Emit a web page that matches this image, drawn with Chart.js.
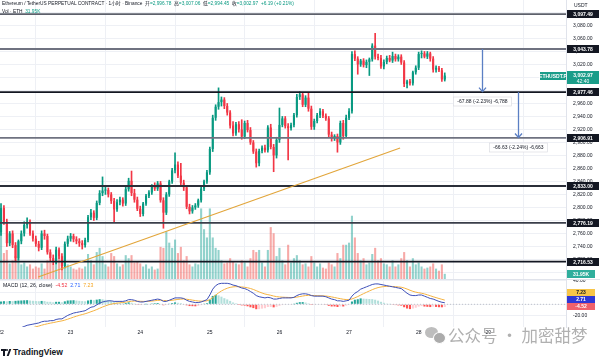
<!DOCTYPE html>
<html><head><meta charset="utf-8">
<script src="https://cdn.jsdelivr.net/npm/chart.js@4.4.1/dist/chart.umd.min.js"></script>
<style>
html,body{margin:0;padding:0;background:#fff;}
#wrap{position:relative;width:600px;height:361px;overflow:hidden;font-family:"Liberation Sans",Arial,"Noto Sans CJK SC",sans-serif;}
#c1,#c2{position:absolute;left:0;}
#c1{top:0;}
#c2{top:279px;}
.t{position:absolute;white-space:nowrap;line-height:1;color:#131722;}
.g{color:#089981;}
#sep{position:absolute;left:0;top:279px;width:600px;height:1px;background:#e0e3eb;}
</style></head><body>
<div id="wrap">
<canvas id="c1" width="600" height="279"></canvas>
<canvas id="c2" width="600" height="62"></canvas>
<div id="sep"></div>
<div class="t" style="left:2px;top:2px;font-size:4.8px">Ethereum / TetherUS PERPETUAL CONTRACT · 1小时 · Binance &nbsp;开<span class="g">=2,996.78</span> &nbsp;高<span class="g">=3,007.06</span> &nbsp;低<span class="g">=2,994.45</span> &nbsp;收<span class="g">=3,002.97</span> &nbsp;<span class="g">+6.19 (+0.21%)</span></div>
<div class="t" style="left:2px;top:10px;font-size:4.8px">Vol · ETH &nbsp;<span class="g">31.95K</span></div>
<div class="t" style="left:574px;top:3px;font-size:5px;color:#131722">USDT</div>
<div class="t" style="left:3px;top:283px;font-size:5.2px">MACD (12, 26, close) &nbsp;<span style="color:#f23645">-4.52</span> &nbsp;<span style="color:#2962ff">2.71</span> &nbsp;<span style="color:#f5a623">7.23</span></div>
<div style="position:absolute;left:425px;top:327px;width:13px;height:11px;border-radius:50%;background:#bdbdbd;"></div>
<div style="position:absolute;left:433px;top:332px;width:11px;height:10px;border-radius:50%;background:#ababab;border:1px solid #fff;"></div>
<div class="t" style="left:448px;top:327px;font-size:16.5px;color:#b0b0b0;font-family:'Noto Sans CJK SC',sans-serif;">公众号 · 加密甜梦</div>
<div style="position:absolute;left:1px;top:349px;width:5px;height:2px;background:#131722;"></div>
<div style="position:absolute;left:3px;top:349px;width:2px;height:7px;background:#131722;"></div>
<div style="position:absolute;left:6px;top:349px;width:2px;height:2px;border-radius:50%;background:#131722;"></div>
<div style="position:absolute;left:8px;top:349px;width:2px;height:7px;background:#131722;transform:skewX(-20deg);"></div>
<div class="t" style="left:13px;top:348px;font-size:8.5px;font-weight:bold;color:#131722">TradingView</div>
</div>
<script>
// ---------- data (1h candles, 22nd 00:00 onward) ----------
const opens = [2762,2799,2778,2745,2760,2742,2722,2748,2760,2773,2778,2760,2752,2744,2738,2760,2756,2731,2722,2716,2735,2725,2710,2744,
2752,2756,2751,2748,2745,2742,2750,2785,2792,2784,2807,2822,2826,2827,2820,2810,2797,2808,2812,2806,2828,2841,2822,2812,
2798,2790,2806,2818,2823,2832,2829,2837,2811,2792,2820,2840,2857,2866,2849,2838,2831,2801,2794,2800,2803,2811,2829,2840,
2854,2890,2938,2955,2962,2966,2956,2946,2926,2914,2928,2920,2909,2930,2919,2900,2886,2868,2887,2892,2888,2923,2893,2880,
2904,2927,2937,2925,2922,2927,2942,2970,2974,2958,2969,2952,2924,2933,2942,2948,2941,2937,2912,2906,2910,2900,2930,2910,
2938,2948,3036,3029,3020,3026,3019,3024,3028,3049,3032,3030,3017,3024,3030,3026,3033,3028,3032,3023,2990,2994,2991,3008,
3015,3036,3037,3032,3037,3029,3012,3015,3011,2996.78];
const highs = [2806,2803,2782,2763,2764,2746,2750,2764,2778,2784,2781,2764,2756,2748,2764,2765,2759,2735,2727,2739,2738,2729,2747,2756,
2760,2759,2755,2752,2749,2753,2788,2797,2795,2810,2826,2847,2832,2830,2823,2814,2812,2816,2815,2831,2845,2856,2828,2816,
2802,2808,2820,2826,2835,2838,2840,2840,2815,2823,2842,2860,2884,2870,2868,2842,2834,2805,2803,2806,2813,2832,2842,2857,
2893,2942,2958,2984,2970,2969,2960,2949,2932,2931,2932,2935,2933,2934,2923,2903,2890,2890,2895,2896,2926,2928,2897,2908,
2953,2940,2940,2929,2930,2945,2974,2978,2977,2972,2976,2956,2936,2945,2952,2951,2944,2940,2916,2912,2913,2933,2934,2942,
2952,3040,3041,3032,3028,3029,3027,3030,3052,3068,3036,3034,3027,3033,3034,3039,3036,3035,3035,3026,2996,2997,3010,3018,
3039,3041,3040,3040,3039,3032,3018,3017,3014,3007.06];
const lows = [2757,2774,2740,2741,2738,2718,2719,2744,2756,2768,2757,2748,2740,2733,2735,2751,2728,2718,2712,2713,2721,2704,2707,2740,
2748,2747,2744,2740,2736,2739,2747,2781,2780,2781,2804,2818,2820,2816,2806,2778,2794,2804,2802,2803,2825,2818,2808,2795,
2786,2787,2803,2815,2820,2826,2826,2808,2768,2789,2817,2837,2853,2846,2835,2826,2798,2790,2791,2797,2800,2808,2826,2837,
2851,2886,2934,2951,2956,2952,2942,2922,2910,2911,2916,2905,2906,2916,2897,2883,2862,2864,2884,2885,2885,2890,2855,2876,
2900,2924,2922,2873,2919,2924,2939,2966,2955,2955,2948,2920,2920,2930,2938,2938,2934,2908,2902,2903,2885,2897,2905,2907,
2935,2945,3026,3005,3017,3016,3015,3003,3025,3028,3027,3014,3013,3021,3024,3023,3025,3025,3020,2986,2984,2988,2988,3005,
3012,3030,3030,3029,3025,3008,3008,3009,2994,2994.45];
const closes = [2799,2778,2745,2760,2742,2722,2748,2760,2773,2778,2760,2752,2744,2738,2760,2756,2731,2722,2716,2735,2725,2710,2744,2752,
2756,2751,2748,2745,2742,2750,2785,2792,2784,2807,2822,2826,2827,2820,2810,2797,2808,2812,2806,2828,2841,2822,2812,2798,
2790,2806,2818,2823,2832,2829,2837,2811,2792,2820,2840,2857,2866,2849,2838,2831,2801,2794,2800,2803,2811,2829,2840,2854,
2890,2938,2955,2962,2966,2956,2946,2926,2914,2928,2920,2909,2930,2919,2900,2886,2868,2887,2892,2888,2923,2893,2880,2904,
2927,2937,2925,2922,2927,2942,2970,2974,2958,2969,2952,2924,2933,2942,2948,2941,2937,2912,2906,2910,2900,2930,2910,2938,
2948,3036,3029,3020,3026,3019,3024,3028,3049,3032,3030,3017,3024,3030,3026,3033,3028,3032,3023,2990,2994,2991,3008,3015,
3036,3037,3032,3037,3029,3012,3015,3011,2997,3002.97];
const volumesK = [384,160,179,96,115,141,128,90,102,77,90,64,77,70,96,64,115,102,90,128,160,115,141,90,
77,64,58,70,64,77,154,115,90,166,192,141,90,77,160,141,96,77,90,147,128,147,102,109,
96,77,90,64,77,58,64,198,192,294,224,192,243,160,198,115,141,90,77,96,90,435,307,256,
435,256,192,179,115,96,102,128,109,96,90,115,102,77,128,179,166,179,102,77,179,320,282,141,
192,115,90,211,102,128,147,115,90,96,77,141,102,77,96,70,64,102,90,77,160,128,211,211,
224,390,256,160,115,128,90,102,154,192,115,128,96,90,77,115,77,90,128,166,115,77,128,90,
102,77,64,70,77,96,64,51,90,31.95];
const macdLine = [-52,-50,-49,-47,-46,-44,-42,-40,-38,-36,-35,-34,-33,-32,-30,-29,-29,-28,-28,-26,-25,-25,-22,-19,
-17,-15,-14,-13,-12,-11,-8,-5,-4,-1,2,4,5,6,6,5,5,5,5,6,8,8,7,5,
4,4,5,6,7,8,9,8,5,5,7,9,11,11,11,10,7,5,4,3,3,4,6,8,
16,26,32,35,36,36,36,35,33,32,30,28,27,25,22,19,15,13,12,11,12,11,9,9,
10,11,11,11,11,12,15,17,18,18,17,15,14,14,14,14,13,11,9,8,6,6,5,6,
7,14,19,22,26,28,30,32,34,35,35,34,33,32,31,30,29,28,27,23,19,16,15,15,
16,16,14,12,10,9,7,5,3.5,2.71];
const signalLine = [-56.8,-55.4,-54.1,-52.7,-51.4,-49.9,-48.3,-46.6,-44.9,-43.1,-41.5,-40.0,-38.6,-37.3,-35.8,-34.5,-33.4,-32.3,-31.4,-30.3,-29.3,-28.4,-27.1,-25.5,
-23.8,-22.0,-20.4,-18.9,-17.5,-16.2,-14.6,-12.7,-11.0,-9.0,-6.8,-4.6,-2.7,-1.0,0.4,1.3,2.0,2.6,3.1,3.7,4.6,5.3,5.6,5.5,
5.2,5.0,5.0,5.2,5.6,6.1,6.7,7.0,6.6,6.3,6.4,6.9,7.7,8.4,8.9,9.1,8.7,8.0,7.2,6.4,5.7,5.4,5.5,6.0,
8.0,11.6,15.7,19.6,22.9,25.5,27.6,29.1,29.9,30.3,30.2,29.8,29.2,28.4,27.1,25.5,23.4,21.3,19.4,17.7,16.6,15.5,14.2,13.2,
12.6,12.3,12.0,11.8,11.6,11.7,12.4,13.3,14.2,15.0,15.4,15.3,15.0,14.8,14.7,14.5,14.2,13.6,12.7,11.7,10.6,9.7,8.7,8.2,
8.0,9.2,11.1,13.3,15.8,18.3,20.6,22.9,25.1,27.1,28.7,29.7,30.4,30.7,30.8,30.6,30.3,29.8,29.3,28.0,26.2,24.2,22.3,20.9,
19.9,19.0,17.8,16.3,14.7,13.0,11.5,10.0,8.6,7.23];
const histogram = [4.8,5.4,5.1,5.7,5.4,5.9,6.3,6.6,6.9,7.1,6.5,6.0,5.6,5.3,5.8,5.5,4.4,4.3,3.4,4.3,4.3,3.4,5.1,6.5,
6.8,7.0,6.4,5.9,5.5,5.2,6.6,7.7,7.0,8.0,8.8,8.6,7.7,7.0,5.6,3.7,3.0,2.4,1.9,2.3,3.4,2.7,1.4,-0.5,
-1.2,-1.0,0.1,0.8,1.4,1.9,2.3,1.0,-1.6,-1.3,0.6,2.1,3.3,2.6,2.1,0.9,-1.7,-3.0,-3.2,-3.4,-2.7,-1.4,0.5,2.0,
8.0,14.4,16.3,15.4,13.1,10.5,8.4,5.9,3.1,1.7,-0.2,-1.8,-2.2,-3.4,-5.1,-6.5,-8.4,-8.3,-7.4,-6.7,-4.6,-4.5,-5.2,-4.2,
-2.6,-1.3,-1.0,-0.8,-0.6,0.3,2.6,3.7,3.8,3.0,1.6,-0.3,-1.0,-0.8,-0.7,-0.5,-1.2,-2.6,-3.7,-3.7,-4.6,-3.7,-3.7,-2.2,
-1.0,4.8,7.9,8.7,10.2,9.7,9.4,9.1,8.9,7.9,6.3,4.3,2.6,1.3,0.2,-0.6,-1.3,-1.8,-2.3,-5.0,-7.2,-8.2,-7.3,-5.9,
-3.9,-3.0,-3.8,-4.3,-4.7,-4.0,-4.5,-5.0,-5.1,-4.52];
const dayLabels = ['22','23','24','25','26','27','28','29'];
const dayStarts = [0,24,48,72,96,120,144,168];
const priceTicks = [2700,2720,2740,2760,2780,2800,2820,2840,2860,2880,2900,2920,2940,2960,2980,3000,3020,3040,3060,3080,3100];
const macdTicks = [40,20,0,-20];
const levels = [3097.49,3043.78,2977.46,2906.91,2833.00,2776.19,2716.53];
const trendLine = [[12.8,2693],[137.6,2891.5]];
const arrows = [
  {at:165.9, from:3043.78, to:2977.46, text:'-67.88 (-2.23%) -6,788'},
  {at:178.3, from:2977.46, to:2906.91, text:'-66.63 (-2.24%) -6,663'}
];
const lastPrice = 3002.97, lastVolK = 31.95;
const macdLast = {hist:-4.52, macd:2.71, signal:7.23};

// ---------- view / style ----------
const X_MIN = -0.35, X_MAX = 194.8;
const P_MIN = 2689.9, P_MAX = 3119.2;
const M_MIN = -38.9, M_MAX = 41.7;
const VOL_MAX = 1720;
const AXIS_W = 34;
const UP = '#089981', DOWN = '#f23645';
const levelColors = ['#5d606b','#6f7280','#131722','#6f7280','#2a2e39','#3a3e4a','#131722'];
const FONT = '"Liberation Sans", Arial, sans-serif';
Chart.defaults.font.family = FONT;
Chart.defaults.font.size = 5;
Chart.defaults.color = '#131722';

const fmt = v => v.toLocaleString('en-US',{minimumFractionDigits:2,maximumFractionDigits:2});
const idx = closes.map((_,i)=>i);
const isUp = idx.map(i => closes[i] >= opens[i]);

function noPad(s){ s.paddingTop=0; s.paddingBottom=0; s.paddingLeft=0; s.paddingRight=0; }

const xGrid = {color:'#eef0f5', lineWidth:1, drawTicks:false};

function box(ctx, x, yc, w, h, bg, txt, col, bold){
  ctx.fillStyle = bg; ctx.fillRect(x, Math.round(yc - h/2), w, h);
  ctx.fillStyle = col; ctx.font = (bold?'bold ':'') + '5px ' + FONT;
  ctx.textAlign = 'center'; ctx.textBaseline = 'middle';
  ctx.fillText(txt, x + w/2, Math.round(yc - h/2) + h/2 + 0.3);
}

const overlay1 = {
  id:'overlay1',
  afterDraw(chart){
    const {ctx, chartArea:ca, scales:{x, y, yVol}} = chart;
    ctx.save();
    arrows.forEach(a => {
      const px = Math.round(x.getPixelForValue(a.at)) + 0.5;
      const y1 = y.getPixelForValue(a.from), y2 = y.getPixelForValue(a.to);
      ctx.strokeStyle = '#5b7fc4'; ctx.lineWidth = 1.3;
      ctx.beginPath(); ctx.moveTo(px, y1); ctx.lineTo(px, y2 - 0.5); ctx.stroke();
      ctx.beginPath(); ctx.moveTo(px - 3.5, y2 - 4.5); ctx.lineTo(px, y2 - 0.5); ctx.lineTo(px + 3.5, y2 - 4.5); ctx.stroke();
      ctx.font = '5px ' + FONT;
      const w = ctx.measureText(a.text).width + 8;
      const top = Math.round(y2 + 5);
      ctx.fillStyle = '#ffffff'; ctx.fillRect(px - w/2, top, w, 9);
      ctx.strokeStyle = '#d6d8de'; ctx.lineWidth = 0.6; ctx.strokeRect(px - w/2, top, w, 9);
      ctx.fillStyle = '#131722'; ctx.textAlign = 'center'; ctx.textBaseline = 'middle';
      ctx.fillText(a.text, px, top + 4.8);
    });
    const ax = ca.right + 1, aw = 600 - ca.right - 2;
    levels.forEach(l => box(ctx, ax, y.getPixelForValue(l), aw, 8, '#131722', fmt(l), '#ffffff', true));
    const py = y.getPixelForValue(lastPrice);
    ctx.fillStyle = '#1a9d89'; ctx.fillRect(ax, Math.round(py - 4.5), aw, 13);
    ctx.fillStyle = '#fff'; ctx.font = 'bold 5px ' + FONT; ctx.textAlign='center'; ctx.textBaseline='middle';
    ctx.fillText(fmt(lastPrice), ax + aw/2, py);
    ctx.font = '5px ' + FONT; ctx.fillText('42:40', ax + aw/2, py + 6);
    box(ctx, ca.right - 26, py, 26, 8, '#1a9d89', 'ETHUSDT.P', '#ffffff', true);
    box(ctx, ax, yVol.getPixelForValue(lastVolK), aw - 4, 8, '#2fae9c', lastVolK.toFixed(2) + 'K', '#ffffff', true);
    ctx.restore();
  }
};

const ds1 = [];
ds1.push({type:'line', data: trendLine.map(p=>({x:p[0], y:p[1]})), borderColor:'#e2a53a', borderWidth:1.1, pointRadius:0, order:0});
levels.forEach((l,k) => ds1.push({type:'line', data:[{x:X_MIN,y:l},{x:X_MAX,y:l}], borderColor:levelColors[k], borderWidth:1.8, pointRadius:0, order:0}));
ds1.push({type:'bar', data: idx.map(i=>({x:i, y:[opens[i], closes[i]]})), backgroundColor: idx.map(i=>isUp[i]?UP:DOWN), borderWidth:0, grouped:false, barPercentage:0.72, categoryPercentage:1, minBarLength:1, order:1});
ds1.push({type:'bar', data: idx.map(i=>({x:i, y:[lows[i], highs[i]]})), backgroundColor: idx.map(i=>isUp[i]?UP:DOWN), borderWidth:0, grouped:false, barThickness:1, order:2});
ds1.push({type:'bar', yAxisID:'yVol', data: idx.map(i=>({x:i, y:volumesK[i]})), backgroundColor: idx.map(i=>isUp[i]?'rgba(38,166,154,0.5)':'rgba(239,83,80,0.5)'), borderWidth:0, grouped:false, barPercentage:0.72, categoryPercentage:1, order:10});

new Chart(document.getElementById('c1'), {
  type:'bar',
  data:{datasets: ds1},
  options:{
    responsive:false, devicePixelRatio:1, animation:false, events:[],
    layout:{padding:0},
    plugins:{legend:{display:false}, tooltip:{enabled:false}},
    scales:{
      x:{type:'linear', min:X_MIN, max:X_MAX, offset:false, grid:xGrid, border:{display:false},
         ticks:{display:false},
         afterBuildTicks:s=>{s.ticks = dayStarts.map(v=>({value:v}));},
         afterFit:s=>{s.height=0; noPad(s);}},
      y:{type:'linear', position:'right', min:P_MIN, max:P_MAX,
         grid:{color:'#eef0f5', drawTicks:false}, border:{display:true, color:'#e0e3eb'},
         afterBuildTicks:s=>{s.ticks = priceTicks.map(v=>({value:v}));},
         ticks:{padding:7, font:{size:5}, color:'#131722', callback:v=>fmt(v)},
         afterFit:s=>{s.width=AXIS_W; noPad(s);}},
      yVol:{type:'linear', display:false, min:0, max:VOL_MAX}
    }
  },
  plugins:[overlay1]
});

const histColors = idx.map(i => {
  const h = histogram[i], p = i>0 ? histogram[i-1] : h;
  if (h >= 0) return h >= p ? '#26a69a' : '#b2dfdb';
  return h <= p ? '#ff5252' : '#ffcdd2';
});
const overlay2 = {
  id:'overlay2',
  afterDraw(chart){
    const {ctx, chartArea:ca, scales:{y}} = chart;
    ctx.save();
    const ax = ca.right + 1, aw = 600 - ca.right - 6;
    const items = [
      {v:macdLast.hist, bg:'#f0616b', c:'#fff'},
      {v:macdLast.macd, bg:'#2e37d6', c:'#fff'},
      {v:macdLast.signal, bg:'#f7c548', c:'#131722'}
    ].map(o=>({...o, p:y.getPixelForValue(o.v)})).sort((a,b)=>b.p-a.p);
    let prev = Infinity;
    items.forEach(o=>{ const p = Math.min(o.p, prev - 7); prev = p; box(ctx, ax, p, aw, 7, o.bg, o.v.toFixed(2), o.c, true); });
    ctx.restore();
  }
};
new Chart(document.getElementById('c2'), {
  type:'bar',
  data:{datasets:[
    {type:'line', data:[{x:X_MIN,y:0},{x:X_MAX,y:0}], borderColor:'#b2b5be', borderWidth:0.8, borderDash:[1,2], pointRadius:0, order:5},
    {type:'line', data: idx.map(i=>({x:i, y:signalLine[i]})), borderColor:'#f5b342', borderWidth:1, pointRadius:0, order:1},
    {type:'line', data: idx.map(i=>({x:i, y:macdLine[i]})), borderColor:'#3d4fb8', borderWidth:1, pointRadius:0, order:0},
    {type:'bar', data: idx.map(i=>({x:i, y:histogram[i]})), backgroundColor: histColors, borderWidth:0, grouped:false, barPercentage:0.72, categoryPercentage:1, order:3}
  ]},
  options:{
    responsive:false, devicePixelRatio:1, animation:false, events:[],
    layout:{padding:{top:1,left:0,right:0,bottom:0}},
    plugins:{legend:{display:false}, tooltip:{enabled:false}},
    scales:{
      x:{type:'linear', min:X_MIN, max:X_MAX, offset:false, grid:xGrid, border:{display:false},
         afterBuildTicks:s=>{s.ticks = dayStarts.map(v=>({value:v}));},
         ticks:{padding:3, autoSkip:false, maxRotation:0, font:{size:5}, color:'#131722',
                callback:(v,i)=>dayLabels[i]},
         afterFit:s=>{s.height=14; noPad(s);}},
      y:{type:'linear', position:'right', min:M_MIN, max:M_MAX,
         grid:{color:'#eef0f5', drawTicks:false}, border:{display:true, color:'#e0e3eb'},
         afterBuildTicks:s=>{s.ticks = macdTicks.map(v=>({value:v}));},
         ticks:{padding:7, font:{size:5}, color:'#131722', callback:v=>fmt(v)},
         afterFit:s=>{s.width=AXIS_W; noPad(s);}}
    }
  },
  plugins:[overlay2]
});
</script>
</body></html>
